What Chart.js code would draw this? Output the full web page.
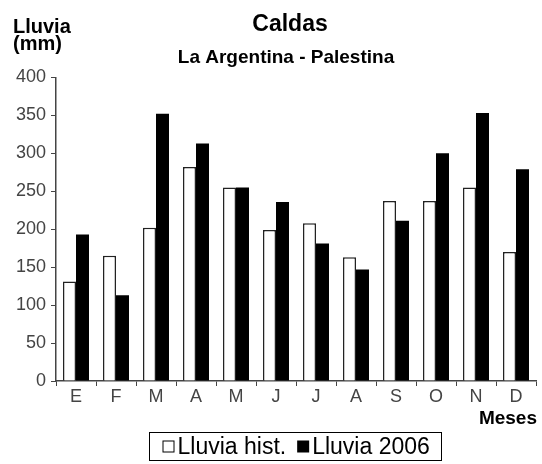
<!DOCTYPE html>
<html>
<head>
<meta charset="utf-8">
<script src="https://cdn.jsdelivr.net/npm/chart.js@4.4.0/dist/chart.umd.min.js"></script>
<style>
  html, body { margin: 0; padding: 0; background: #fff; }
  #wrap { width: 542px; height: 464px; position: relative; }
</style>
</head>
<body>
<div id="wrap"><canvas id="c" width="542" height="464"></canvas></div>
<script>
const categories = ['E', 'F', 'M', 'A', 'M', 'J', 'J', 'A', 'S', 'O', 'N', 'D'];
const lluviaHist = [131, 165, 202, 282, 255, 199, 208, 163, 237, 237, 255, 170];
const lluvia2006 = [193, 113, 352, 313, 255, 236, 181, 147, 211, 300, 353, 279];
const seriesNames = ['Lluvia hist.', 'Lluvia 2006'];
const yTicks = [0, 50, 100, 150, 200, 250, 300, 350, 400];

const FONT = "'Liberation Sans', Arial, sans-serif";

// shift title/subtitle boxes so they are centred over the plot like the reference
const titleShift = {
  id: 'titleShift',
  afterLayout(chart) {
    chart.boxes.forEach(b => {
      if (b.options && typeof b.options.text === 'string' && b.options.position === 'top') {
        b.left += (b.options.text === 'Caldas') ? 44 : 36;
      }
    });
  }
};

const extraText = {
  id: 'extraText',
  afterDraw(chart) {
    const ctx = chart.ctx;
    const area = chart.chartArea;
    ctx.save();
    ctx.fillStyle = '#000';
    ctx.font = 'bold 20px ' + FONT;
    ctx.textAlign = 'left';
    ctx.textBaseline = 'middle';
    ctx.fillText('Lluvia', 13, 27);
    ctx.fillText('(mm)', 13, 44);
    ctx.font = 'bold 19px ' + FONT;
    ctx.textAlign = 'right';
    ctx.fillText('Meses', area.right + 1, 419);

    // legend
    const ds = chart.data.datasets;
    ctx.font = '23px ' + FONT;
    ctx.textAlign = 'left';
    const sq = 12, gap = 3, itemGap = 11, padL = 13, padR = 5;
    const w1 = ctx.measureText(ds[0].label).width;
    const w2 = ctx.measureText(ds[1].label).width;
    const inner = sq + gap + w1 + itemGap + sq + gap + w2;
    const boxW = Math.max(inner + padL + padR, 292);
    const bx = 149.5;
    const by = 432.5, bh = 28;
    ctx.strokeStyle = '#000';
    ctx.lineWidth = 1;
    ctx.strokeRect(bx, by, boxW, bh);
    const cy = by + bh / 2;
    let x = bx + padL;
    ctx.fillStyle = '#fff';
    ctx.fillRect(x, cy - sq / 2, sq, sq);
    ctx.strokeRect(x + 0.5, cy - sq / 2 + 0.5, sq - 1, sq - 1);
    x += sq + gap;
    ctx.fillStyle = '#000';
    ctx.fillText(ds[0].label, x, cy + 1);
    x += w1 + itemGap;
    ctx.fillRect(x, cy - sq / 2, sq, sq);
    x += sq + gap;
    ctx.fillText(ds[1].label, x, cy + 1);
    ctx.restore();
  }
};

new Chart(document.getElementById('c'), {
  type: 'bar',
  data: {
    labels: categories,
    datasets: [
      { label: seriesNames[0], data: lluviaHist, backgroundColor: '#ffffff', borderColor: '#222', borderWidth: 1.5, categoryPercentage: 0.65, barPercentage: 1.0 },
      { label: seriesNames[1], data: lluvia2006, backgroundColor: '#000000', borderColor: '#000', borderWidth: 0, categoryPercentage: 0.65, barPercentage: 1.0 }
    ]
  },
  options: {
    responsive: false,
    animation: false,
    devicePixelRatio: 1,
    layout: { padding: { left: 0, right: 6, top: 0, bottom: 33 } },
    plugins: {
      legend: { display: false },
      tooltip: { enabled: false },
      title: { display: true, text: 'Caldas', color: '#000', font: { family: FONT, size: 23, weight: 'bold' }, padding: { top: 11, bottom: 0 } },
      subtitle: { display: true, text: 'La Argentina - Palestina', color: '#000', font: { family: FONT, size: 19, weight: 'bold' }, padding: { top: 8, bottom: 8 } }
    },
    scales: {
      x: {
        grid: { display: true, drawOnChartArea: false, drawTicks: true, tickLength: 5, offset: true, color: '#444', lineWidth: 1 },
        border: { display: true, color: '#444', width: 1.5 },
        ticks: { color: '#444', font: { family: FONT, size: 18 }, padding: 0, maxRotation: 0 },
        afterFit(scale) { scale.height = 50; }
      },
      y: {
        min: 0, max: 400,
        afterBuildTicks(scale) { scale.ticks = yTicks.map(v => ({ value: v })); },
        grid: { display: true, drawOnChartArea: false, drawTicks: true, tickLength: 5, color: '#444', lineWidth: 1 },
        border: { display: true, color: '#444', width: 1.5 },
        ticks: { color: '#444', font: { family: FONT, size: 18 }, padding: 5 },
        afterFit(scale) { scale.width = 56; }
      }
    }
  },
  plugins: [titleShift, extraText]
});
</script>
</body>
</html>
